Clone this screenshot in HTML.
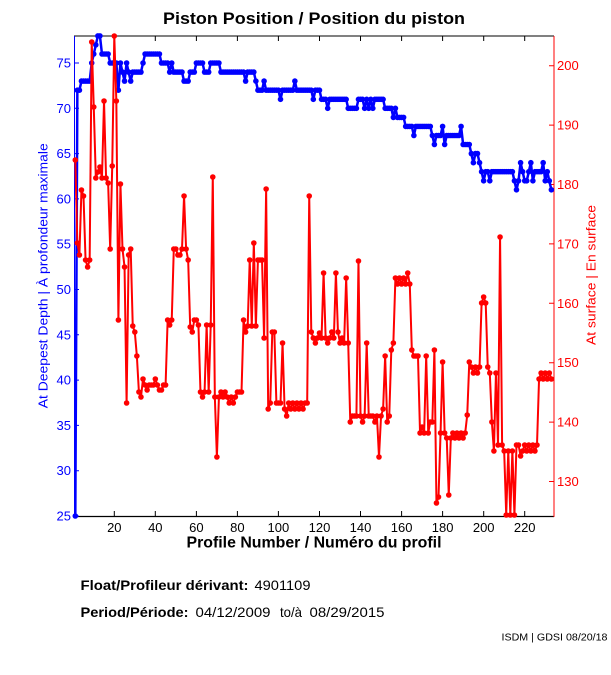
<!DOCTYPE html>
<html><head><meta charset="utf-8"><title>Piston Position</title>
<style>
html,body{margin:0;padding:0;background:#fff;}
svg{display:block;}
text{font-family:"Liberation Sans",Arial,sans-serif;}
</style></head>
<body>
<svg width="611" height="675" viewBox="0 0 611 675" xmlns="http://www.w3.org/2000/svg">
<defs>
<marker id="mb" markerUnits="userSpaceOnUse" markerWidth="10" markerHeight="10" refX="0" refY="0" style="overflow:visible"><ellipse cx="0" cy="0" rx="1.36" ry="2.8" fill="#0000ff"/></marker>
<marker id="mr" markerUnits="userSpaceOnUse" markerWidth="10" markerHeight="10" refX="0" refY="0" style="overflow:visible"><ellipse cx="0" cy="0" rx="1.36" ry="2.8" fill="#ff0000"/></marker>
</defs>
<rect width="611" height="675" fill="#fff"/>

<!-- Title -->
<text x="314" y="24" font-size="17" font-weight="bold" text-anchor="middle" textLength="302" lengthAdjust="spacingAndGlyphs">Piston Position / Position du piston</text>

<!-- Axes box -->
<line x1="74" y1="36" x2="554" y2="36" stroke="#000" stroke-width="1"/>
<line x1="74" y1="516.5" x2="554" y2="516.5" stroke="#000" stroke-width="1.2"/>
<line x1="74.5" y1="36" x2="74.5" y2="517" stroke="#0000ff" stroke-width="1"/>
<line x1="554" y1="36" x2="554" y2="517" stroke="#ff0000" stroke-width="1"/>

<!-- X ticks -->
<g stroke="#000" stroke-width="1">
<path d="M114.3 516V511M155.3 516V511M196.4 516V511M237.4 516V511M278.4 516V511M319.5 516V511M360.5 516V511M401.6 516V511M442.6 516V511M483.7 516V511M524.7 516V511"/>
<path d="M114.3 36V41M155.3 36V41M196.4 36V41M237.4 36V41M278.4 36V41M319.5 36V41M360.5 36V41M401.6 36V41M442.6 36V41M483.7 36V41M524.7 36V41"/>
</g>
<g font-size="13" text-anchor="middle" fill="#000">
<text x="114.3" y="532">20</text><text x="155.3" y="532">40</text><text x="196.4" y="532">60</text><text x="237.4" y="532">80</text><text x="278.4" y="532">100</text><text x="319.5" y="532">120</text><text x="360.5" y="532">140</text><text x="401.6" y="532">160</text><text x="442.6" y="532">180</text><text x="483.7" y="532">200</text><text x="524.7" y="532">220</text>
</g>

<!-- Left ticks -->
<path d="M74 516H79M74 470.7H79M74 425.4H79M74 380.1H79M74 334.8H79M74 289.5H79M74 244.2H79M74 198.9H79M74 153.6H79M74 108.3H79M74 63H79" stroke="#0000ff" stroke-width="1"/>
<g font-size="13" text-anchor="end" fill="#0000ff">
<text x="71" y="520.5">25</text><text x="71" y="475.2">30</text><text x="71" y="429.9">35</text><text x="71" y="384.6">40</text><text x="71" y="339.3">45</text><text x="71" y="294">50</text><text x="71" y="248.7">55</text><text x="71" y="203.4">60</text><text x="71" y="158.1">65</text><text x="71" y="112.8">70</text><text x="71" y="67.5">75</text>
</g>

<!-- Right ticks -->
<path d="M554 481.5H549M554 422.1H549M554 362.7H549M554 303.3H549M554 243.9H549M554 184.5H549M554 125.1H549M554 65.7H549" stroke="#ff0000" stroke-width="1"/>
<g font-size="13" text-anchor="start" fill="#ff0000">
<text x="557" y="486">130</text><text x="557" y="426.6">140</text><text x="557" y="367.2">150</text><text x="557" y="307.8">160</text><text x="557" y="248.4">170</text><text x="557" y="189">180</text><text x="557" y="129.6">190</text><text x="557" y="70.2">200</text>
</g>

<!-- Axis labels -->
<text x="314" y="547.5" font-size="16" font-weight="bold" text-anchor="middle" textLength="255" lengthAdjust="spacingAndGlyphs">Profile Number / Numéro du profil</text>
<text transform="translate(47.5,275.8) rotate(-90)" x="0" y="0" font-size="13" fill="#0000ff" text-anchor="middle" textLength="265" lengthAdjust="spacingAndGlyphs">At Deepest Depth | À profondeur maximale</text>
<text transform="translate(595.5,275) rotate(-90)" x="0" y="0" font-size="13" fill="#ff0000" text-anchor="middle" textLength="140" lengthAdjust="spacingAndGlyphs">At surface | En surface</text>

<!-- Data -->
<g transform="matrix(2.052 0 0 1 73.248 0)">
<polyline fill="none" stroke="#0000ff" stroke-width="2.5" vector-effect="non-scaling-stroke" stroke-linejoin="round" points="1,516 2,90.2 3,90.2 4,81.1 5,81.1 6,81.1 7,81.1 8,81.1 9,63 10,54 11,44.9 12,35.9 13,35.9 14,54 15,54 16,54 17,54 18,63 19,63 20,63 21,63 22,90.2 23,63 24,72.1 25,81.1 26,63 27,72.1 28,81.1 29,72.1 30,72.1 31,72.1 32,72.1 33,72.1 34,63 35,54 36,54 37,54 38,54 39,54 40,54 41,54 42,54 43,63 44,63 45,63 46,63 47,72.1 48,63 49,72.1 50,72.1 51,72.1 52,72.1 53,72.1 54,81.1 55,81.1 56,81.1 57,72.1 58,72.1 59,72.1 60,63 61,63 62,63 63,63 64,72.1 65,72.1 66,72.1 67,63 68,63 69,63 70,63 71,63 72,72.1 73,72.1 74,72.1 75,72.1 76,72.1 77,72.1 78,72.1 79,72.1 80,72.1 81,72.1 82,72.1 83,72.1 84,81.1 85,72.1 86,72.1 87,72.1 88,72.1 89,81.1 90,90.2 91,90.2 92,90.2 93,81.1 94,90.2 95,90.2 96,90.2 97,90.2 98,90.2 99,90.2 100,90.2 101,99.3 102,90.2 103,90.2 104,90.2 105,90.2 106,90.2 107,90.2 108,81.1 109,90.2 110,90.2 111,90.2 112,90.2 113,90.2 114,90.2 115,90.2 116,90.2 117,99.3 118,90.2 119,90.2 120,90.2 121,99.3 122,99.3 123,99.3 124,108.3 125,99.3 126,99.3 127,99.3 128,99.3 129,99.3 130,99.3 131,99.3 132,99.3 133,99.3 134,108.3 135,108.3 136,108.3 137,108.3 138,108.3 139,99.3 140,99.3 141,99.3 142,108.3 143,99.3 144,108.3 145,99.3 146,108.3 147,99.3 148,99.3 149,99.3 150,99.3 151,99.3 152,108.3 153,108.3 154,108.3 155,108.3 156,117.4 157,108.3 158,117.4 159,117.4 160,117.4 161,117.4 162,126.4 163,126.4 164,126.4 165,126.4 166,135.5 167,126.4 168,126.4 169,126.4 170,126.4 171,126.4 172,126.4 173,126.4 174,126.4 175,135.5 176,144.5 177,135.5 178,135.5 179,135.5 180,126.4 181,144.5 182,135.5 183,135.5 184,135.5 185,135.5 186,135.5 187,135.5 188,135.5 189,126.4 190,144.5 191,144.5 192,144.5 193,144.5 194,153.6 195,162.7 196,153.6 197,153.6 198,162.7 199,171.7 200,180.8 201,171.7 202,171.7 203,180.8 204,171.7 205,171.7 206,171.7 207,171.7 208,171.7 209,171.7 210,171.7 211,171.7 212,171.7 213,171.7 214,171.7 215,180.8 216,189.8 217,180.8 218,162.7 219,171.7 220,180.8 221,180.8 222,171.7 223,162.7 224,180.8 225,171.7 226,171.7 227,171.7 228,171.7 229,162.7 230,180.8 231,171.7 232,180.8 233,189.8"/>
<polyline fill="none" stroke="none" marker-start="url(#mb)" marker-mid="url(#mb)" marker-end="url(#mb)" points="1,516 2,90.2 3,90.2 4,81.1 5,81.1 6,81.1 7,81.1 8,81.1 9,63 10,54 11,44.9 12,35.9 13,35.9 14,54 15,54 16,54 17,54 18,63 19,63 20,63 21,63 22,90.2 23,63 24,72.1 25,81.1 26,63 27,72.1 28,81.1 29,72.1 30,72.1 31,72.1 32,72.1 33,72.1 34,63 35,54 36,54 37,54 38,54 39,54 40,54 41,54 42,54 43,63 44,63 45,63 46,63 47,72.1 48,63 49,72.1 50,72.1 51,72.1 52,72.1 53,72.1 54,81.1 55,81.1 56,81.1 57,72.1 58,72.1 59,72.1 60,63 61,63 62,63 63,63 64,72.1 65,72.1 66,72.1 67,63 68,63 69,63 70,63 71,63 72,72.1 73,72.1 74,72.1 75,72.1 76,72.1 77,72.1 78,72.1 79,72.1 80,72.1 81,72.1 82,72.1 83,72.1 84,81.1 85,72.1 86,72.1 87,72.1 88,72.1 89,81.1 90,90.2 91,90.2 92,90.2 93,81.1 94,90.2 95,90.2 96,90.2 97,90.2 98,90.2 99,90.2 100,90.2 101,99.3 102,90.2 103,90.2 104,90.2 105,90.2 106,90.2 107,90.2 108,81.1 109,90.2 110,90.2 111,90.2 112,90.2 113,90.2 114,90.2 115,90.2 116,90.2 117,99.3 118,90.2 119,90.2 120,90.2 121,99.3 122,99.3 123,99.3 124,108.3 125,99.3 126,99.3 127,99.3 128,99.3 129,99.3 130,99.3 131,99.3 132,99.3 133,99.3 134,108.3 135,108.3 136,108.3 137,108.3 138,108.3 139,99.3 140,99.3 141,99.3 142,108.3 143,99.3 144,108.3 145,99.3 146,108.3 147,99.3 148,99.3 149,99.3 150,99.3 151,99.3 152,108.3 153,108.3 154,108.3 155,108.3 156,117.4 157,108.3 158,117.4 159,117.4 160,117.4 161,117.4 162,126.4 163,126.4 164,126.4 165,126.4 166,135.5 167,126.4 168,126.4 169,126.4 170,126.4 171,126.4 172,126.4 173,126.4 174,126.4 175,135.5 176,144.5 177,135.5 178,135.5 179,135.5 180,126.4 181,144.5 182,135.5 183,135.5 184,135.5 185,135.5 186,135.5 187,135.5 188,135.5 189,126.4 190,144.5 191,144.5 192,144.5 193,144.5 194,153.6 195,162.7 196,153.6 197,153.6 198,162.7 199,171.7 200,180.8 201,171.7 202,171.7 203,180.8 204,171.7 205,171.7 206,171.7 207,171.7 208,171.7 209,171.7 210,171.7 211,171.7 212,171.7 213,171.7 214,171.7 215,180.8 216,189.8 217,180.8 218,162.7 219,171.7 220,180.8 221,180.8 222,171.7 223,162.7 224,180.8 225,171.7 226,171.7 227,171.7 228,171.7 229,162.7 230,180.8 231,171.7 232,180.8 233,189.8"/>

<polyline fill="none" stroke="#ff0000" stroke-width="2" vector-effect="non-scaling-stroke" stroke-linejoin="round" points="1,160 2,243 3,255 4,190 5,196 6,260 7,267 8,260 9,42 10,107 11,178 12,172 13,167 14,178 15,101 16,178 17,183 18,249 19,166 20,36 21,101 22,320 23,184 24,249 25,267 26,403 27,255 28,249 29,326 30,332 31,356 32,392 33,397 34,379 35,385 36,390 37,385 38,385 39,385 40,379 41,385 42,390 43,390 44,385 45,385 46,320 47,325 48,320 49,249 50,249 51,255 52,255 53,249 54,196 55,249 56,260 57,327 58,332 59,320 60,320 61,325 62,392 63,397 64,392 65,325 66,392 67,325 68,177 69,397 70,457 71,397 72,392 73,397 74,392 75,397 76,403 77,397 78,403 79,397 80,392 81,392 82,392 83,320 84,332 85,326 86,260 87,326 88,243 89,326 90,260 91,260 92,260 93,338 94,189 95,409 96,403 97,332 98,332 99,403 100,403 101,403 102,343 103,409 104,416 105,403 106,409 107,403 108,409 109,403 110,409 111,403 112,409 113,403 114,403 115,196 116,332 117,338 118,343 119,338 120,333 121,338 122,273 123,338 124,343 125,338 126,332 127,338 128,273 129,332 130,343 131,338 132,343 133,278 134,343 135,422 136,416 137,416 138,416 139,261 140,416 141,422 142,416 143,343 144,416 145,416 146,416 147,422 148,416 149,457 150,416 151,409 152,356 153,422 154,416 155,350 156,343 157,278 158,284 159,278 160,284 161,278 162,284 163,273 164,284 165,350 166,356 167,356 168,356 169,433 170,427 171,433 172,356 173,433 174,422 175,422 176,350 177,503 178,497 179,433 180,362 181,433 182,438 183,495 184,438 185,433 186,438 187,433 188,438 189,433 190,438 191,433 192,415 193,362 194,367 195,373 196,367 197,373 198,367 199,303 200,297 201,303 202,367 203,373 204,422 205,451 206,373 207,445 208,237 209,445 210,451 211,515 212,451 213,515 214,451 215,515 216,445 217,445 218,456 219,451 220,445 221,451 222,445 223,451 224,445 225,451 226,445 227,379 228,373 229,379 230,373 231,379 232,373 233,379"/>
<polyline fill="none" stroke="none" marker-start="url(#mr)" marker-mid="url(#mr)" marker-end="url(#mr)" points="1,160 2,243 3,255 4,190 5,196 6,260 7,267 8,260 9,42 10,107 11,178 12,172 13,167 14,178 15,101 16,178 17,183 18,249 19,166 20,36 21,101 22,320 23,184 24,249 25,267 26,403 27,255 28,249 29,326 30,332 31,356 32,392 33,397 34,379 35,385 36,390 37,385 38,385 39,385 40,379 41,385 42,390 43,390 44,385 45,385 46,320 47,325 48,320 49,249 50,249 51,255 52,255 53,249 54,196 55,249 56,260 57,327 58,332 59,320 60,320 61,325 62,392 63,397 64,392 65,325 66,392 67,325 68,177 69,397 70,457 71,397 72,392 73,397 74,392 75,397 76,403 77,397 78,403 79,397 80,392 81,392 82,392 83,320 84,332 85,326 86,260 87,326 88,243 89,326 90,260 91,260 92,260 93,338 94,189 95,409 96,403 97,332 98,332 99,403 100,403 101,403 102,343 103,409 104,416 105,403 106,409 107,403 108,409 109,403 110,409 111,403 112,409 113,403 114,403 115,196 116,332 117,338 118,343 119,338 120,333 121,338 122,273 123,338 124,343 125,338 126,332 127,338 128,273 129,332 130,343 131,338 132,343 133,278 134,343 135,422 136,416 137,416 138,416 139,261 140,416 141,422 142,416 143,343 144,416 145,416 146,416 147,422 148,416 149,457 150,416 151,409 152,356 153,422 154,416 155,350 156,343 157,278 158,284 159,278 160,284 161,278 162,284 163,273 164,284 165,350 166,356 167,356 168,356 169,433 170,427 171,433 172,356 173,433 174,422 175,422 176,350 177,503 178,497 179,433 180,362 181,433 182,438 183,495 184,438 185,433 186,438 187,433 188,438 189,433 190,438 191,433 192,415 193,362 194,367 195,373 196,367 197,373 198,367 199,303 200,297 201,303 202,367 203,373 204,422 205,451 206,373 207,445 208,237 209,445 210,451 211,515 212,451 213,515 214,451 215,515 216,445 217,445 218,456 219,451 220,445 221,451 222,445 223,451 224,445 225,451 226,445 227,379 228,373 229,379 230,373 231,379 232,373 233,379"/>
</g>

<!-- Footer info -->
<text x="80.5" y="590" font-size="14" font-weight="bold" textLength="168" lengthAdjust="spacingAndGlyphs">Float/Profileur dérivant:</text>
<text x="254.5" y="590" font-size="14" textLength="56" lengthAdjust="spacingAndGlyphs">4901109</text>
<text x="80.5" y="617" font-size="14" font-weight="bold" textLength="108" lengthAdjust="spacingAndGlyphs">Period/Période:</text>
<text x="195.5" y="617" font-size="14" textLength="75" lengthAdjust="spacingAndGlyphs">04/12/2009</text>
<text x="280" y="617" font-size="14" textLength="22" lengthAdjust="spacingAndGlyphs">to/à</text>
<text x="309.5" y="617" font-size="14" textLength="75" lengthAdjust="spacingAndGlyphs">08/29/2015</text>
<text x="501.5" y="640.5" font-size="10" textLength="106" lengthAdjust="spacingAndGlyphs">ISDM | GDSI 08/20/18</text>
</svg>
</body></html>
